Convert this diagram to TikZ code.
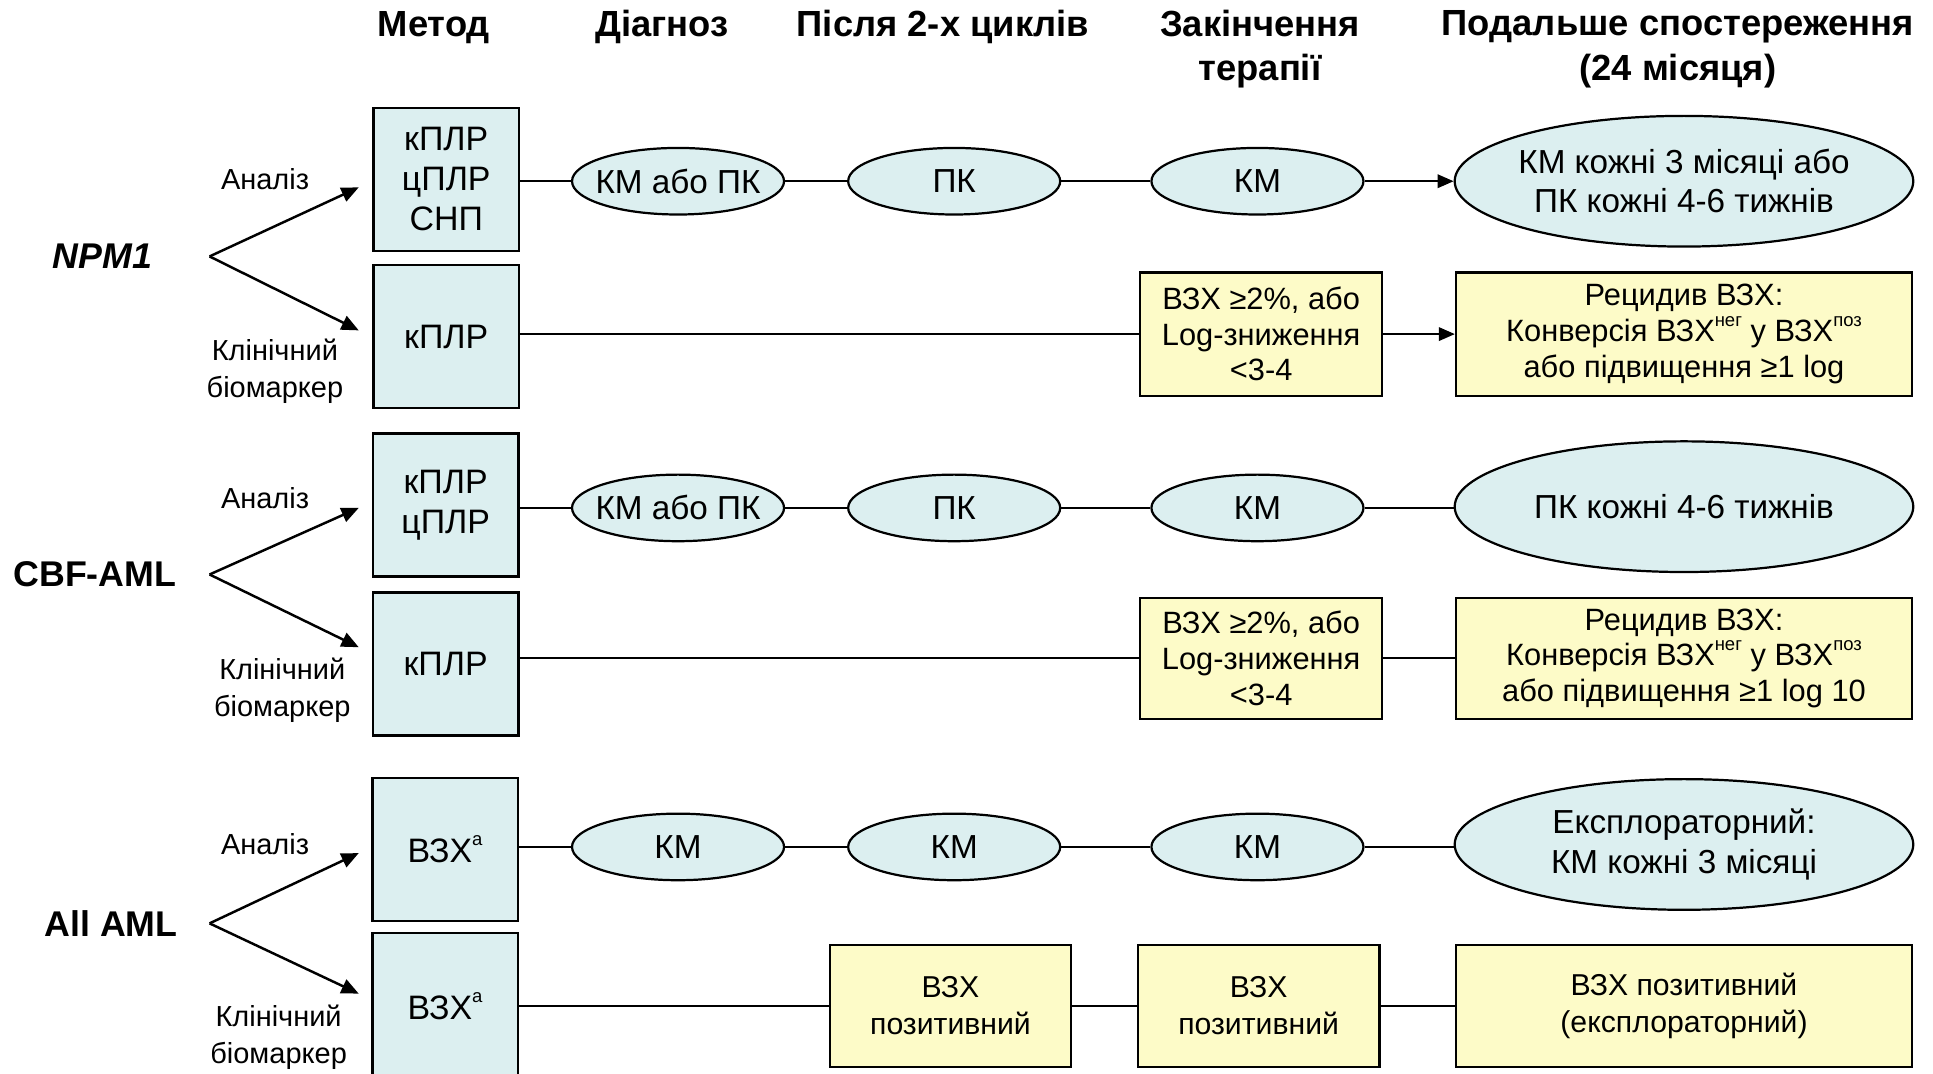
\documentclass[tikz,border=0pt]{standalone}
\usepackage{fontspec}
\setmainfont{Liberation Sans}
\usetikzlibrary{shapes.geometric,arrows.meta}
\definecolor{methodblue}{RGB}{220,239,240}
\definecolor{resultyellow}{RGB}{253,251,200}
\newcommand\sups[1]{\raisebox{0.5em}{\fontsize{15}{15}\selectfont #1}}

\begin{document}
\begin{tikzpicture}[x=1pt,y=-1pt,
    hd/.style={font=\fontsize{29.5}{36}\selectfont\bfseries, align=center},
    grp/.style={font=\fontsize{29}{30}\selectfont\bfseries},
    lbl/.style={font=\fontsize{23.5}{30}\selectfont, align=center},
    method/.style={draw, line width=2pt, fill=methodblue, minimum width=118pt, minimum height=116pt, align=center, font=\fontsize{27.5}{32.5}\selectfont},
    oval/.style={ellipse, draw, line width=1.8pt, fill=methodblue, minimum width=172pt, minimum height=54pt, inner sep=-9pt, align=center, font=\fontsize{27}{32}\selectfont},
    bigoval/.style={oval, minimum width=372pt, minimum height=106pt, inner sep=-6pt},
    res/.style={draw, line width=1.8pt, fill=resultyellow, minimum width=196pt, minimum height=100pt, align=center, font=\fontsize{25}{29}\selectfont},
    wideres/.style={res, minimum width=370pt},
    link/.style={line width=1.5pt},
    branch/.style={line width=2pt, -{Triangle[length=14pt,width=12pt]}},
    tip/.style={line width=1.5pt, -{Triangle[length=13pt,width=11pt]}}]
    \useasboundingbox (0,0) rectangle (1568,871);

    \node[hd] (hmet) at (352,22) {Метод};
    \node[hd] (hdia) at (537,22) {Діагноз};
    \node[hd] (hpis) at (765,22) {Після 2-х циклів};
    \node[hd] (hzak) at (1022,40) {Закінчення\\терапії};
    \node[hd] (hpod) at (1361,40) {Подальше спостереження\\(24 місяця)};

    \node[grp] (npm) at (83,208) {\itshape NPM1};
    \coordinate (s1) at (170,208);
    \coordinate (t1a) at (291,152);
    \coordinate (t1b) at (291,268);
    \draw[branch] (s1) -- (t1a);
    \draw[branch] (s1) -- (t1b);
    \node[lbl] (an1) at (215,145) {Аналіз};
    \node[lbl] (kl1) at (223,301) {Клінічний\\біомаркер};

    \node[method] (m1) at (362,145.5) {кПЛР\\цПЛР\\СНП};
    \node[oval] (o11) at (550,147) {КМ або ПК};
    \node[oval] (o12) at (774,147) {ПК};
    \node[oval] (o13) at (1020,147) {КМ};
    \node[bigoval] (o14) at (1366,147) {КМ кожні 3 місяці або\\ПК кожні 4-6 тижнів};
    \draw[link] (m1.east |- o11) -- (o11);
    \draw[link] (o11) -- (o12);
    \draw[link] (o12) -- (o13);
    \draw[tip] (o13) -- (o14);

    \node[method] (m2) at (362,273) {кПЛР};
    \node[res] (r13) at (1023,271) {ВЗХ ≥2\%, або\\Log-зниження\\<3-4};
    \node[wideres] (r14) at (1366,271) {Рецидив ВЗХ:\\Конверсія ВЗХ\sups{нег} у ВЗХ\sups{поз}\\або підвищення ≥1 log};
    \draw[link] (m2.east |- r13) -- (r13);
    \draw[tip] (r13) -- (r14);

    \node[grp] (cbf) at (77,466) {CBF-AML};
    \coordinate (s2) at (170,466);
    \coordinate (t2a) at (291,412);
    \coordinate (t2b) at (291,525);
    \draw[branch] (s2) -- (t2a);
    \draw[branch] (s2) -- (t2b);
    \node[lbl] (an2) at (215,404) {Аналіз};
    \node[lbl] (kl2) at (229,560) {Клінічний\\біомаркер};

    \node[method] (m3) at (361.5,409.5) {кПЛР\\цПЛР};
    \node[oval] (o31) at (550,412) {КМ або ПК};
    \node[oval] (o32) at (774,412) {ПК};
    \node[oval] (o33) at (1020,412) {КМ};
    \node[bigoval] (o34) at (1366,411) {ПК кожні 4-6 тижнів};
    \draw[link] (m3.east |- o31) -- (o31);
    \draw[link] (o31) -- (o32);
    \draw[link] (o32) -- (o33);
    \draw[link] (o33) -- (o33 -| o34.west);

    \node[method] (m4) at (361.5,538.5) {кПЛР};
    \node[res, minimum height=98pt] (r33) at (1023,534) {ВЗХ ≥2\%, або\\Log-зниження\\<3-4};
    \node[wideres, minimum height=98pt] (r34) at (1366,534) {Рецидив ВЗХ:\\Конверсія ВЗХ\sups{нег} у ВЗХ\sups{поз}\\або підвищення ≥1 log 10};
    \draw[link] (m4.east |- r33) -- (r33);
    \draw[link] (r33) -- (r34);

    \node[grp] (all) at (90,749) {All AML};
    \coordinate (s3) at (170,749);
    \coordinate (t3a) at (291,692);
    \coordinate (t3b) at (291,806);
    \draw[branch] (s3) -- (t3a);
    \draw[branch] (s3) -- (t3b);
    \node[lbl] (an3) at (215,685) {Аналіз};
    \node[lbl] (kl3) at (226,841) {Клінічний\\біомаркер};

    \node[method] (m5) at (361,689) {ВЗХ\sups{a}};
    \node[oval] (o51) at (550,687) {КМ};
    \node[oval] (o52) at (774,687) {КМ};
    \node[oval] (o53) at (1020,687) {КМ};
    \node[bigoval] (o54) at (1366,685) {Експлораторний:\\КМ кожні 3 місяці};
    \draw[link] (m5.east |- o51) -- (o51);
    \draw[link] (o51) -- (o52);
    \draw[link] (o52) -- (o53);
    \draw[link] (o53) -- (o53 -| o54.west);

    \node[method, minimum height=118pt] (m6) at (361,816) {ВЗХ\sups{a}};
    \node[res, minimum height=99pt, font=\fontsize{24.5}{30}\selectfont] (r61) at (771,816) {ВЗХ\\позитивний};
    \node[res, minimum height=99pt, font=\fontsize{24.5}{30}\selectfont] (r62) at (1021,816) {ВЗХ\\позитивний};
    \node[wideres, minimum height=99pt, font=\fontsize{24.5}{30}\selectfont] (r63) at (1366,816) {ВЗХ позитивний\\(експлораторний)};
    \draw[link] (m6.east |- r61) -- (r61);
    \draw[link] (r61) -- (r62);
    \draw[link] (r62) -- (r63);
\end{tikzpicture}
\end{document}
